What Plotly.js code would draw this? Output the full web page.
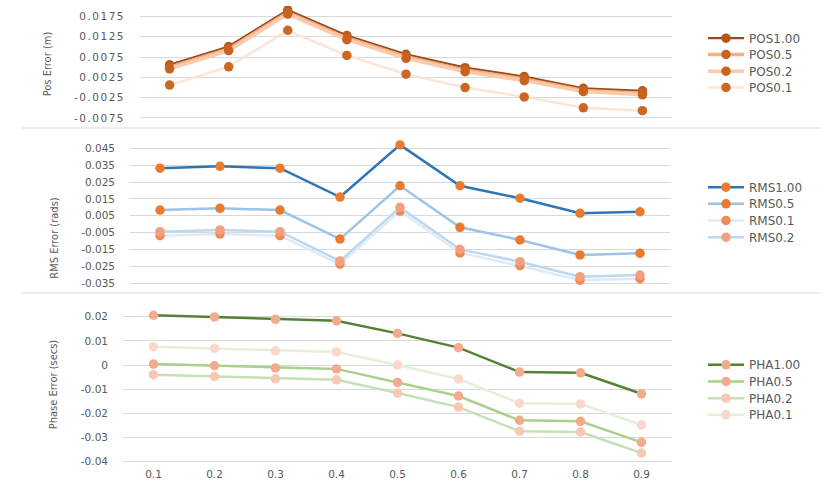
<!DOCTYPE html>
<html>
<head>
<meta charset="utf-8">
<script src="https://cdn.plot.ly/plotly-3.0.1.min.js"></script>
<style>
  html, body { margin: 0; padding: 0; background: #fff; }
  #chart { width: 831px; height: 484px; }
  .ytick text, .xtick text { letter-spacing: 1.5px; }
</style>
</head>
<body>
<div id="chart"></div>
<script>
// x categories shared by all three panels
var steps = ['0.1', '0.2', '0.3', '0.4', '0.5', '0.6', '0.7', '0.8', '0.9'];

// position error (m)
var pos100 = [0.0056, 0.0101, 0.0191, 0.0128, 0.0082, 0.0049, 0.0027, -0.0002, -0.0008];
var pos05  = [0.0050, 0.0095, 0.0185, 0.0122, 0.0076, 0.0043, 0.0021, -0.0007, -0.0014];
var pos02  = [0.0046, 0.0091, 0.0181, 0.0118, 0.0072, 0.0039, 0.0017, -0.0010, -0.0018];
var pos01  = [0.0006, 0.0051, 0.0141, 0.0079, 0.0033, 0.0000, -0.0023, -0.0050, -0.0057];

// rms error (rads)
var rms100 = [0.0332, 0.0343, 0.0332, 0.0161, 0.0470, 0.0228, 0.0154, 0.0065, 0.0074];
var rms05  = [0.0084, 0.0094, 0.0084, -0.0088, 0.0228, -0.0018, -0.0093, -0.0182, -0.0172];
var rms01  = [-0.0068, -0.0058, -0.0068, -0.0237, 0.0078, -0.0170, -0.0246, -0.0332, -0.0323];
var rms02  = [-0.0044, -0.0034, -0.0044, -0.0218, 0.0100, -0.0149, -0.0222, -0.0311, -0.0301];

// phase error (secs)
var pha100 = [0.0206, 0.0199, 0.0189, 0.0183, 0.0131, 0.0072, -0.0029, -0.0032, -0.0119];
var pha05  = [0.0004, -0.0003, -0.0012, -0.0016, -0.0072, -0.0128, -0.0229, -0.0233, -0.0320];
var pha02  = [-0.0040, -0.0047, -0.0057, -0.0061, -0.0116, -0.0174, -0.0274, -0.0277, -0.0364];
var pha01  = [0.0076, 0.0069, 0.0059, 0.0054, 0.0000, -0.0058, -0.0158, -0.0161, -0.0248];

// tick values
var posTicks = [-0.0075, -0.0025, 0.0025, 0.0075, 0.0125, 0.0175];
var rmsTicks = [-0.035, -0.025, -0.015, -0.005, 0.005, 0.015, 0.025, 0.035, 0.045];
var phaTicks = [-0.04, -0.03, -0.02, -0.01, 0, 0.01, 0.02];

var W = 831, H = 484;
var grey = '#595959';
var tickFont = { family: 'DejaVu Sans, sans-serif', size: 10.5, color: grey };
var titleFont = { family: 'Liberation Sans Narrow, DejaVu Sans Condensed, sans-serif', size: 11, color: grey };

function px(x) { return x / W; }
function py(y) { return 1 - y / H; }

// one legend per series so the rows can sit as close as in the original
var layout = {
  width: W, height: H,
  margin: { l: 0, r: 0, t: 0, b: 0 },
  paper_bgcolor: '#fff', plot_bgcolor: 'rgba(0,0,0,0)',
  showlegend: true
};
var legendCount = 0;

function legendAt(rowY) {
  legendCount++;
  var key = legendCount === 1 ? 'legend' : 'legend' + legendCount;
  layout[key] = {
    x: px(703), y: py(rowY - 14), xanchor: 'left', yanchor: 'top',
    bgcolor: 'rgba(0,0,0,0)', borderwidth: 0, itemwidth: 36,
    font: { family: 'DejaVu Sans, sans-serif', size: 12, color: grey }
  };
  return key;
}

function line(name, ys, lineColor, width, markerColor, n, rowY) {
  return {
    type: 'scatter', mode: 'lines+markers', name: name,
    x: steps, y: ys,
    xaxis: n === 1 ? 'x' : 'x' + n, yaxis: n === 1 ? 'y' : 'y' + n,
    legend: legendAt(rowY),
    line: { color: lineColor, width: width },
    marker: { color: markerColor, size: 9.5, line: { width: 0 } }
  };
}

var data = [
  line('POS1.00', pos100, '#9B4A1C', 2.2, '#B5561D', 1, 37.7),
  line('POS0.5', pos05, '#F4B183', 3.5, '#C8631F', 1, 54),
  line('POS0.2', pos02, '#F8CBAD', 3.5, '#C8631F', 1, 70.7),
  line('POS0.1', pos01, '#FBE5D6', 2.5, '#CC6826', 1, 87),

  line('RMS1.00', rms100, '#2E75B6', 2.5, '#E97B2F', 2, 186.7),
  line('RMS0.5', rms05, '#9DC3E6', 2.5, '#E97B2F', 2, 203.3),
  line('RMS0.1', rms01, '#DEEBF7', 2.5, '#EF8A55', 2, 220),
  line('RMS0.2', rms02, '#BDD7EE', 2.5, '#F3A07E', 2, 236.7),

  line('PHA1.00', pha100, '#548235', 2.5, '#F2AB8C', 3, 364.3),
  line('PHA0.5', pha05, '#A9D18E', 2.5, '#F2AB8C', 3, 381),
  line('PHA0.2', pha02, '#C5E0B4', 2.5, '#F7C8B4', 3, 397.7),
  line('PHA0.1', pha01, '#E2F0D9', 2.5, '#F9D8CB', 3, 414.3)
];

function xAxis(left, right, anchor, labels) {
  return {
    type: 'category', domain: [px(left), px(right)], anchor: anchor,
    range: [-0.5, 8.5], showgrid: false, zeroline: false, showline: false,
    ticks: '', showticklabels: labels, tickfont: tickFont
  };
}

function yAxis(top, bottom, range, ticks, anchor, title) {
  return {
    domain: [py(bottom), py(top)], anchor: anchor, range: range,
    tickmode: 'array', tickvals: ticks, ticktext: ticks.map(String),
    showgrid: true, gridcolor: '#D9D9D9', gridwidth: 1,
    zeroline: false, showline: false, ticks: '',
    ticklabelstandoff: 14, tickfont: tickFont,
    title: { text: title, font: titleFont, standoff: 20 }
  };
}

function sep(y) {
  return {
    type: 'line', xref: 'paper', yref: 'paper',
    x0: px(22), x1: px(821), y0: py(y), y1: py(y),
    line: { color: '#D9D9D9', width: 1 }
  };
}

layout.xaxis = xAxis(140, 672, 'y', false);
layout.yaxis = yAxis(6, 122, [-0.00849, 0.02009], posTicks, 'x', 'Pos Error (m)');
layout.xaxis2 = xAxis(130, 670, 'y2', false);
// middle panel domain runs further down so its title sits lower, as in the original
layout.yaxis2 = yAxis(138, 338, [-0.06742, 0.0511], rmsTicks, 'x2', 'RMS Error (rads)');
layout.xaxis3 = xAxis(123, 672, 'y3', true);
layout.yaxis3 = yAxis(303, 466, [-0.04178, 0.02567], phaTicks, 'x3', 'Phase Error (secs)');
layout.shapes = [sep(128), sep(293)];

Plotly.newPlot('chart', data, layout, { displayModeBar: false, staticPlot: true });
</script>
</body>
</html>
